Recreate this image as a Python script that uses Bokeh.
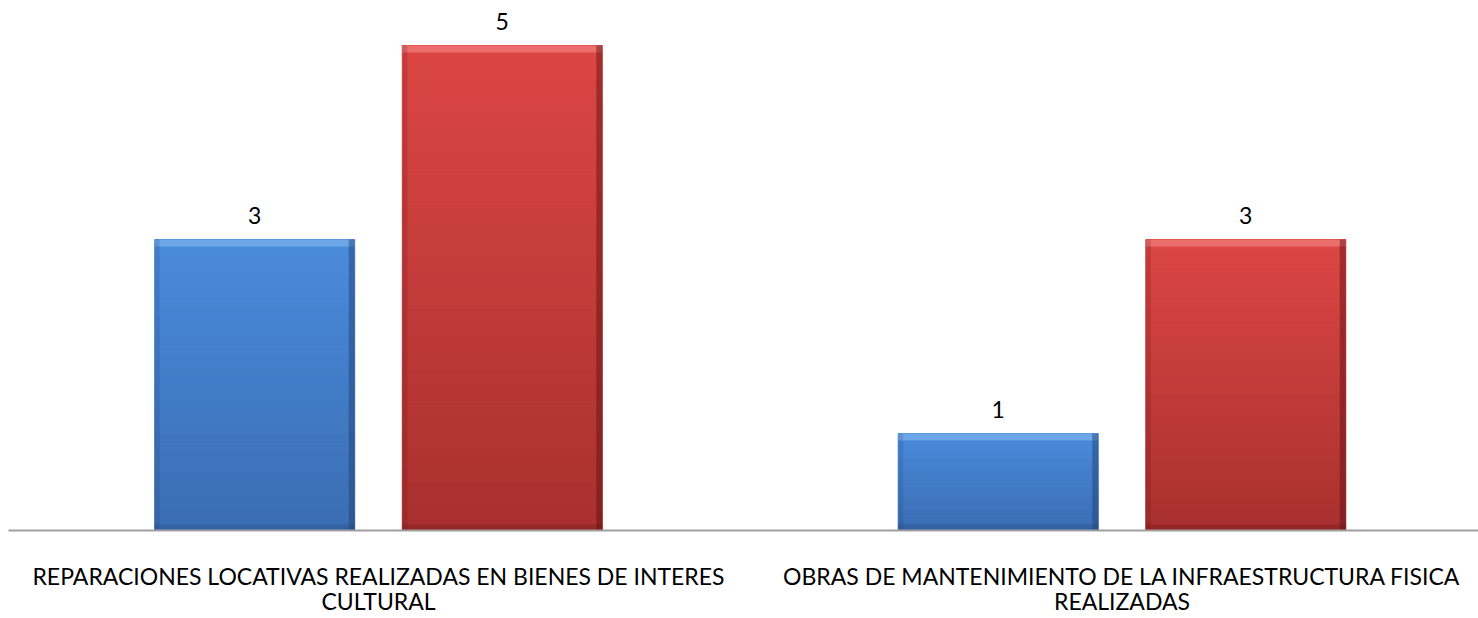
import numpy as np
from bokeh.plotting import figure
from bokeh.models import Range1d, FixedTicker, ColumnDataSource, LabelSet, LinearAxis
from bokeh.core.properties import value
from bokeh.embed import file_html
from bokeh.resources import INLINE

categories = ["REPARACIONES LOCATIVAS REALIZADAS EN BIENES DE INTERES\nCULTURAL",
              "OBRAS DE MANTENIMIENTO DE LA INFRAESTRUCTURA FISICA\nREALIZADAS"]
series_a = [3, 1]   # blue
series_b = [5, 3]   # red

FONT = "Lato"
FRAME_W, FRAME_H = 1470, 530
X0, X1 = -0.49765, 1.47949
Y1 = FRAME_H / 97.0
p = figure(frame_width=FRAME_W, frame_height=FRAME_H, output_backend="svg", toolbar_location=None,
           x_range=Range1d(X0, X1), y_range=Range1d(0, Y1),
           min_border_left=8, min_border_right=0, min_border_top=0,
           min_border_bottom=0)
p.outline_line_color = None
p.grid.visible = False
p.yaxis.visible = False
p.background_fill_color = "white"

lines = [c.split("\n") for c in categories]
ticks = list(range(len(categories)))

ax = p.xaxis[0]
ax2 = LinearAxis()
p.add_layout(ax2, "below")
for a, li, so in ((ax, 0, 25), (ax2, 1, -12)):
    a.ticker = FixedTicker(ticks=ticks)
    a.major_label_overrides = {i: l[li] for i, l in zip(ticks, lines)}
    a.major_tick_line_color = None
    a.minor_tick_line_color = None
    a.major_label_text_font = FONT
    a.major_label_text_font_size = "23px"
    a.major_label_text_color = "#000000"
    a.major_label_standoff = so
ax.axis_line_color = "#a0a0a0"
ax.axis_line_width = 2
ax2.axis_line_color = None

offset = 0.1665
bw = 0.269
px_y = Y1 / FRAME_H
px_x = (X1 - X0) / FRAME_W

def hexmix(c1, c2, t):
    a = np.array([int(c1[i:i+2], 16) for i in (1, 3, 5)], float)
    b = np.array([int(c2[i:i+2], 16) for i in (1, 3, 5)], float)
    m = a + (b - a) * t
    return "#%02x%02x%02x" % tuple(int(round(v)) for v in m)

def draw_bars(xs, vals, top_c, bot_c, hi_c, dark_c):
    nb = 30
    L, R, T, B, C = [], [], [], [], []
    for x, v in zip(xs, vals):
        for k in range(nb):
            t0 = k / nb
            t1 = (k + 1) / nb
            L.append(x - bw / 2); R.append(x + bw / 2)
            T.append(v * (1 - t0)); B.append(v * (1 - t1))
            C.append(hexmix(top_c, bot_c, (k + 0.5) / nb))
    p.quad(left=L, right=R, top=T, bottom=B, fill_color=C, line_color=C, line_width=1)
    n = len(vals)
    p.quad(left=[x - bw / 2 for x in xs], right=[x + bw / 2 for x in xs],
           top=vals, bottom=[v - 7 * px_y for v in vals], fill_color=hi_c, fill_alpha=0.55, line_color=None)
    p.quad(left=[x + bw / 2 - 6 * px_x for x in xs], right=[x + bw / 2 for x in xs],
           top=vals, bottom=[0] * n, fill_color=dark_c, fill_alpha=0.45, line_color=None)
    p.quad(left=[x - bw / 2 for x in xs], right=[x - bw / 2 + 5 * px_x for x in xs],
           top=vals, bottom=[0] * n, fill_color=dark_c, fill_alpha=0.18, line_color=None)
    p.quad(left=[x - bw / 2 for x in xs], right=[x + bw / 2 for x in xs],
           top=[6 * px_y] * n, bottom=[0] * n, fill_color=dark_c, fill_alpha=0.25, line_color=None)

xa = [i - offset for i in ticks]
xb = [i + offset for i in ticks]
draw_bars(xa, series_a, "#4a8bdc", "#3a6db2", "#8cc0f4", "#1f3f6e")
draw_bars(xb, series_b, "#dc4644", "#a8302f", "#f89090", "#5a1010")

src = ColumnDataSource(dict(x=xa + xb, y=series_a + series_b,
                            t=[str(v) for v in series_a + series_b]))
p.add_layout(LabelSet(x="x", y="y", text="t", source=src, y_offset=16,
                      text_align="center", text_baseline="alphabetic",
                      text_font=value(FONT), text_font_size=value("23px"),
                      text_color="#000000"))

open("out.html", "w").write(file_html(p, INLINE))
